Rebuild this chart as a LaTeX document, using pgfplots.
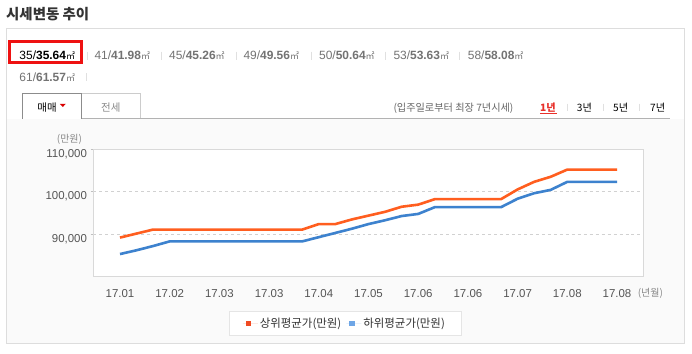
\documentclass[border=0pt]{standalone}
\usepackage{fontspec}
\setmainfont{Liberation Sans}
\newfontfamily\kr{Noto Sans CJK KR}
\usepackage{pgfplots}
\pgfplotsset{compat=1.18}
\definecolor{upc}{HTML}{FF5E1F}
\definecolor{loc}{HTML}{3D82CE}
\definecolor{sqr}{HTML}{F04A22}
\definecolor{sqb}{HTML}{6EA6E6}
\definecolor{boxc}{HTML}{DDDDDD}
\definecolor{bgc}{HTML}{FAFAFA}
\definecolor{txt}{HTML}{555555}
\definecolor{redbox}{HTML}{EE1111}
\newcommand{\sz}[5]{\node[anchor=base west,inner sep=0] at (#1,#2) {\fontsize{12}{14}\selectfont\color{#5}#3/{\bfseries #4}{\kr\fontsize{9}{10}\selectfont ㎡}};}
\begin{document}
\begin{tikzpicture}[x=1bp,y=-1bp]
\path[use as bounding box, fill=white] (0,0) rectangle (692,353);
\fill[bgc] (6.5,118.5) rectangle (684.5,343.5);
\draw[boxc] (6.5,28.5) -- (6.5,343.5) -- (684.5,343.5) -- (684.5,28.5) -- cycle;
% title
\node[anchor=base west,inner sep=0] at (6,19.5) {\kr\bfseries\fontsize{14.5}{16}\selectfont\color[HTML]{333333}시세변동 추이};
% sizes
\sz{19.3}{59.3}{35}{35.64}{black}
\sz{94.3}{59.3}{41}{41.98}{black!55}
\sz{169}{59.3}{45}{45.26}{black!55}
\sz{243.3}{59.3}{49}{49.56}{black!55}
\sz{319}{59.3}{50}{50.64}{black!55}
\sz{393.3}{59.3}{53}{53.63}{black!55}
\sz{467.7}{59.3}{58}{58.08}{black!55}
\sz{19.3}{81}{61}{61.57}{black!55}
\foreach \xx in {87.3,161.3,236,311,385,459.3} {\draw[black!12] (\xx,51.5) -- (\xx,59.5);}
\draw[black!12] (86,73) -- (86,81);
\draw[redbox, line width=3bp] (9.8,41.5) rectangle (81.8,62.8);
% tabs
\draw[black!30] (22,118.5) -- (670,118.5);
\fill[white] (22.5,93.5) rectangle (81.5,118.6);
\draw[black!45] (22.5,118.5) -- (22.5,93.5) -- (81.5,93.5) -- (81.5,118.5);
\fill[white] (81.5,93.5) rectangle (140.5,118.5);
\draw[black!20] (81.5,93.5) -- (140.5,93.5) -- (140.5,118.5);
\draw[black!30] (81.5,118.5) -- (140.5,118.5);
\node[anchor=base west,inner sep=0] at (37.3,111) {\kr\fontsize{10.5}{12}\selectfont 매매};
\fill[red!85!black] (59.8,103.8) -- (65.8,103.8) -- (62.8,107) -- cycle;
\node[anchor=base west,inner sep=0] at (101,111) {\kr\fontsize{10.5}{12}\selectfont\color[HTML]{888888}전세};
% period selector
\node[anchor=base west,inner sep=0] at (393.3,111) {\kr\fontsize{10.2}{12}\selectfont\color[HTML]{666666}(입주일로부터 최장 7년시세)};
\node[anchor=base west,inner sep=0] at (540,111) {\kr\bfseries\fontsize{10.2}{12}\selectfont\color[HTML]{E8302A}1년};
\draw[color={rgb,255:red,232;green,48;blue,42}, line width=1bp] (540,113) -- (556.7,113);
\node[anchor=base west,inner sep=0] at (576.7,111) {\kr\fontsize{10.2}{12}\selectfont 3년};
\node[anchor=base west,inner sep=0] at (613,111) {\kr\fontsize{10.2}{12}\selectfont 5년};
\node[anchor=base west,inner sep=0] at (650,111) {\kr\fontsize{10.2}{12}\selectfont 7년};
\foreach \xx in {566.7,603.3,639.3} {\draw[black!12] (\xx,103.5) -- (\xx,110.5);}
% chart
\begin{scope}[x=1cm,y=1cm]
\begin{axis}[
  at={(93.5bp,-276bp)}, anchor=south west, scale only axis,
  width=550bp, height=126.7bp,
  xmin=-1.6, xmax=31.6, ymin=80000, ymax=110000,
  axis background/.style={fill=white},
  axis line style={draw=black!15},
  xtick={0,3,...,30},
  xticklabels={17.01,17.02,17.03,17.03,17.04,17.05,17.06,17.06,17.07,17.08,17.08},
  ytick={90000,100000,110000},
  ymajorgrids, grid style={dashed, draw=black!18},
  tick align=outside, ytick pos=left, xtick pos=bottom,
  major tick length=3bp, xtick style={draw=none}, ytick style={draw=black!25},
  scaled y ticks=false,
  /pgf/number format/.cd, fixed, 1000 sep={,}, assume math mode=true, /pgfplots/.cd,
  tick label style={font=\fontsize{11.5}{13}\selectfont, text=txt},
  yticklabel style={yshift=-5bp},
  xticklabel style={yshift=-6.5bp},
  legend columns=2,
  legend image code/.code={\path (-3bp,0bp) -- (12bp,0bp); \fill[#1] (0bp,-2.8bp) rectangle (5.6bp,2.8bp);},
  legend style={at={(0.457,-0.376)}, anchor=center, draw=black!10, fill=white,
    font=\kr\fontsize{11.5}{13}\selectfont, text=black!80, inner xsep=14bp, inner ysep=4.5bp,
    /tikz/every even column/.append style={column sep=3bp}},
]
\addplot[upc, line width=2.6bp, line join=round, forget plot] coordinates {
(0,89100) (1,90050) (2,91000) (3,91000) (4,91000) (5,91000) (6,91000) (7,91000)
(8,91000) (9,91000) (10,91000) (11,91000) (12,92300) (13,92300) (14,93400) (15,94300)
(16,95200) (17,96400) (18,96900) (19,98200) (20,98200) (21,98200) (22,98200) (23,98200)
(24,100500) (25,102300) (26,103500) (27,105200) (28,105200) (29,105200) (30,105200)};
\addplot[loc, line width=2.6bp, line join=round, forget plot] coordinates {
(0,85200) (1,86100) (2,87100) (3,88200) (4,88200) (5,88200) (6,88200) (7,88200)
(8,88200) (9,88200) (10,88200) (11,88200) (12,89200) (13,90200) (14,91200) (15,92300)
(16,93200) (17,94200) (18,94700) (19,96300) (20,96300) (21,96300) (22,96300) (23,96300)
(24,98300) (25,99600) (26,100400) (27,102300) (28,102300) (29,102300) (30,102300)};
\addlegendimage{fill=sqr, draw=none}
\addlegendentry{상위평균가(만원)}
\addlegendimage{fill=sqb, draw=none}
\addlegendentry{하위평균가(만원)}
\end{axis}
\end{scope}
\node[anchor=base west,inner sep=0] at (56.7,142) {\kr\fontsize{10}{12}\selectfont\color[HTML]{888888}(만원)};
\node[anchor=base west,inner sep=0] at (637.6,296.5) {\kr\fontsize{10}{12}\selectfont\color[HTML]{888888}(년월)};
\end{tikzpicture}
\end{document}
